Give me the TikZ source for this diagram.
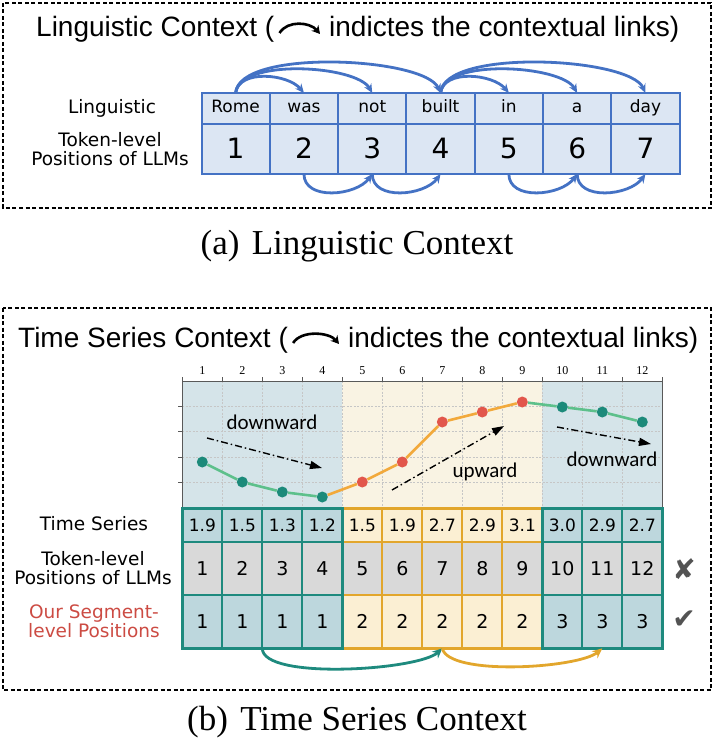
\documentclass[tikz,border=0pt]{standalone}
\usepackage{fontspec}
\setmainfont{Liberation Serif}
\newfontfamily\arialfont{Liberation Sans}
\newfontfamily\handfont{DejaVu Sans}
\newfontfamily\calibfont{Carlito}
\usetikzlibrary{arrows.meta}

\definecolor{linkblue}{HTML}{4472C4}
\definecolor{cellblue}{HTML}{DCE6F3}
\definecolor{segteal}{HTML}{1E8A7E}
\definecolor{seggold}{HTML}{E2A62C}
\definecolor{bgblue}{HTML}{D5E4E9}
\definecolor{bgcream}{HTML}{F9F3E3}
\definecolor{fillblue}{HTML}{BDD7DD}
\definecolor{fillcream}{HTML}{FBEFD3}
\definecolor{fillgray}{HTML}{D9D9D9}
\definecolor{dotteal}{HTML}{1C8A7A}
\definecolor{dotred}{HTML}{E2564B}
\definecolor{linegreen}{HTML}{5DC08B}
\definecolor{lineorange}{HTML}{F2A93B}
\definecolor{ourred}{HTML}{CC4B43}

\begin{document}
\begin{tikzpicture}[
  x=1pt, y=-1pt,
  box/.style={draw=black, line width=1.8pt, dash pattern=on 4pt off 2.5pt},
  titletxt/.style={font=\arialfont\fontsize{28}{30}\selectfont, inner sep=0pt, anchor=base west},
  titlearrow/.style={line width=2.6pt, -{Stealth[length=8pt,width=9pt]}},
  captxt/.style={font=\fontsize{35}{37}\selectfont, inner sep=0pt},
  hand/.style={font=\handfont\fontsize{18.5}{19}\selectfont, align=center, inner sep=0pt},
  wordcell/.style={draw=linkblue, fill=cellblue, line width=2pt, inner sep=0pt, outer sep=0pt,
    minimum width=68.3pt, minimum height=31pt, text height=12.5pt, text depth=3.5pt,
    font=\handfont\fontsize{17}{19}\selectfont},
  poscell/.style={wordcell, minimum height=50pt, text height=20pt, text depth=0pt,
    font=\handfont\fontsize{28}{30}\selectfont},
  link/.style={draw=linkblue, line width=2.8pt, -{Stealth[length=9pt,width=8pt]}},
  gridline/.style={gray!45, line width=0.5pt, dash pattern=on 2pt off 1.5pt},
  axisline/.style={gray!70!black, line width=0.8pt},
  ticklbl/.style={font=\fontsize{12}{13}\selectfont, inner sep=0pt},
  dot/.style={circle, minimum size=11pt, inner sep=0pt, draw=none},
  trend/.style={line width=1.4pt, dash pattern=on 7pt off 3pt on 1.5pt off 3pt,
    -{Triangle[length=12pt,width=8pt]}},
  trendlbl/.style={font=\calibfont\fontsize{21}{23}\selectfont, inner sep=0pt},
  cell/.style={line width=2pt, inner sep=0pt, outer sep=0pt, minimum width=40pt},
  tealcell/.style={draw=segteal, fill=fillblue},
  goldcell/.style={draw=seggold, fill=fillcream},
  segarrow/.style={line width=2.8pt, -{Stealth[length=10pt,width=9pt]}},
  markc/.style={font=\handfont\fontsize{28}{30}\selectfont, text=gray!65!black, inner sep=0pt}
]

  \useasboundingbox (0,0) rectangle (714,743);

  % Recuadros
  \draw[box] (3,3) rectangle (711,208);
  \draw[box] (3,308) rectangle (711,690);

  % Titulos
  \node[titletxt] (ta1) at (36,37) {Linguistic Context (};
  \node[titletxt] (ta2) at (329,37) {indictes the contextual links)};
  \draw[titlearrow] ([xshift=5pt,yshift=4pt]ta1.base east)
    .. controls +(8,-13) and +(-10,-12) .. ([xshift=-9pt,yshift=3pt]ta2.base west);

  \node[titletxt] (tb1) at (18,347) {Time Series Context (};
  \node[titletxt] (tb2) at (348,347) {indictes the contextual links)};
  \draw[titlearrow] ([xshift=5pt,yshift=4pt]tb1.base east)
    .. controls +(8,-13) and +(-10,-12) .. ([xshift=-9pt,yshift=3pt]tb2.base west);

  % Tabla linguistica
  \node[hand] (lblling) at (112,108) {Linguistic};
  \node[hand] (lbltoka) at (110,149) {Token-level\\Positions of LLMs};

  \foreach \w [count=\i] in {Rome,was,not,built,in,a,day} {
    \node[wordcell] (w\i) at ({201.5+68.3*(\i-0.5)},108.5) {\w};
    \node[poscell] (p\i) at ({201.5+68.3*(\i-0.5)},149) {\i};
  }

  % Enlaces contextuales
  \foreach \a/\t/\h in {1/2/24,1/3/35,1/4/45,4/5/24,4/6/35,4/7/45}
    \draw[link] (w\a.north) .. controls +(3,-\h) and +(-16,{-0.8*\h}) .. (w\t.north);

  \foreach \a/\t in {2/3,3/4,5/6,6/7}
    \draw[link] (p\a.south) .. controls +(0,27) and +(-16,22) .. (p\t.south);

  % Grafica
  \fill[bgblue] (182.3,381) rectangle (342.3,508);
  \fill[bgcream] (342.3,381) rectangle (542.3,508);
  \fill[bgblue] (542.3,381) rectangle (662.3,508);

  \foreach \i in {1,...,11}
    \draw[gridline] ({182.3+40*\i},381) -- ({182.3+40*\i},508);
  \foreach \j in {406,431.5,457,482.5}
    \draw[gridline] (182.3,\j) -- (662.3,\j);

  \draw[axisline] (182.3,508) -- (182.3,381) -- (662.3,381) -- (662.3,508);
  \foreach \i in {0,...,12}
    \draw[axisline] ({182.3+40*\i},377) -- ({182.3+40*\i},381);
  \foreach \j in {406,431.5,457,482.5}
    \draw[axisline] (178,\j) -- (182.3,\j);

  \foreach \i in {1,...,12}
    \node[ticklbl] (t\i) at ({162.3+40*\i},371) {\i};

  \foreach \v/\c [count=\i] in {1.9/dotteal,1.5/dotteal,1.3/dotteal,1.2/dotteal,
      1.5/dotred,1.9/dotred,2.7/dotred,2.9/dotred,3.1/dotred,
      3.0/dotteal,2.9/dotteal,2.7/dotteal}
    \node[dot, fill=\c] (d\i) at ({162.3+40*\i},{557-50*\v}) {};

  \draw[linegreen, line width=2.6pt] (d1) -- (d2) -- (d3) -- (d4);
  \draw[lineorange, line width=2.6pt] (d4) -- (d5) -- (d6) -- (d7) -- (d8) -- (d9);
  \draw[linegreen, line width=2.6pt] (d9) -- (d10) -- (d11) -- (d12);

  % Tendencias
  \coordinate (dl1) at (207,438);
  \coordinate (dl2) at (322,468);
  \coordinate (up1) at (392,490);
  \coordinate (up2) at (504,426);
  \coordinate (dr1) at (557,427);
  \coordinate (dr2) at (651,444);
  \draw[trend] (dl1) -- (dl2);
  \draw[trend] (up1) -- (up2);
  \draw[trend] (dr1) -- (dr2);

  \node[trendlbl] (down1) at (272,422) {downward};
  \node[trendlbl] (upw) at (485,472) {upward};
  \node[trendlbl] (down2) at (612,459) {downward};

  % Tabla de la serie
  \node[hand] (lblts) at (94,524) {Time Series};
  \node[hand] (lbltokb) at (93,568) {Token-level\\Positions of LLMs};
  \node[hand, text=ourred] (lblseg) at (94,621) {Our Segment-\\level Positions};

  \foreach \v/\r/\g [count=\i] in {1.9/1/tealcell,1.5/1/tealcell,1.3/1/tealcell,1.2/1/tealcell,
      1.5/2/goldcell,1.9/2/goldcell,2.7/2/goldcell,2.9/2/goldcell,3.1/2/goldcell,
      3.0/3/tealcell,2.9/3/tealcell,2.7/3/tealcell} {
    \node[cell, style=\g, minimum height=34pt, font=\handfont\fontsize{17}{19}\selectfont]
      (v\i) at ({162.3+40*\i},525.3) {\v};
    \node[cell, style=\g, fill=fillgray, minimum height=52.7pt, font=\handfont\fontsize{19}{21}\selectfont]
      (k\i) at ({162.3+40*\i},568.7) {\i};
    \node[cell, style=\g, minimum height=53.3pt, font=\handfont\fontsize{19}{21}\selectfont]
      (s\i) at ({162.3+40*\i},621.7) {\r};
  }

  \draw[seggold, line width=2.4pt] (v5.north west) rectangle (s9.south east);
  \draw[segteal, line width=2.4pt] (v1.north west) rectangle (s4.south east);
  \draw[segteal, line width=2.4pt] (v10.north west) rectangle (s12.south east);

  % Enlaces entre segmentos
  \draw[segarrow, segteal] (s2.south east) .. controls +(0,32) and +(-24,22) .. (s7.south);
  \draw[segarrow, seggold] (s7.south) .. controls +(6,28) and +(-24,20) .. (s11.south);

  % Marcas
  \node[markc] (xmark) at (684,569) {✘};
  \node[markc] (cmark) at (684,620) {✔};

  % Leyendas
  \node[captxt] (capa) at (357,246) {(a)\hspace{0.35em}Linguistic Context};
  \node[captxt] (capb) at (357,722) {(b)\hspace{0.35em}Time Series Context};

\end{tikzpicture}
\end{document}
